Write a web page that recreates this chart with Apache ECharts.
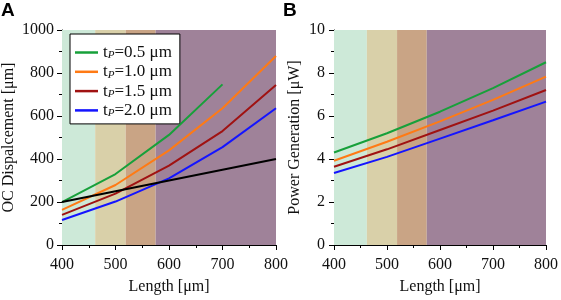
<!DOCTYPE html>
<html>
<head>
<meta charset="utf-8">
<script src="https://cdn.jsdelivr.net/npm/echarts@6/dist/echarts.min.js"></script>
<style>
  html, body { margin: 0; padding: 0; background: #fff; }
  #chart { width: 561px; height: 300px; }
</style>
</head>
<body>
<div id="chart"></div>
<script>
// lengths (um)
var lengths = [400, 500, 600, 700, 800];
var thickness = ['0.5', '1.0', '1.5', '2.0'];
var lineColors = ['#17a03a', '#ff7a14', '#a01212', '#1414ff'];

// panel A: OC displacement [um]
var dispA = [
    [199, 330, 512, 747],
    [163, 279, 440, 636, 879],
    [140, 239, 369, 530, 744],
    [116, 202, 310, 455, 636]
];
var refLine = [200, 250, 300, 350, 400];

// panel B: power generation [uW]
var powerB = [
    [4.3, 5.2, 6.2, 7.3, 8.5],
    [3.92, 4.8, 5.75, 6.75, 7.83],
    [3.64, 4.45, 5.35, 6.25, 7.21],
    [3.35, 4.1, 4.95, 5.8, 6.67]
];

// shaded bands
var bandEdges = [400, 462, 519, 575, 800];
var bandColors = ['#cde9d8', '#d9d0a9', '#c9a485', '#9f8299'];

var serif = 'Liberation Serif';
var legendNames = thickness.map(function (t) { return 'tP=' + t; });

function pairs(ys) {
    return ys.map(function (y, i) { return [lengths[i], y]; });
}

function bands() {
    var d = [];
    for (var i = 0; i < bandColors.length; i++) {
        d.push([{ xAxis: bandEdges[i], itemStyle: { color: bandColors[i], opacity: 1 } },
                { xAxis: bandEdges[i + 1] }]);
    }
    return d;
}

function xAx(idx) {
    return {
        type: 'value', gridIndex: idx, min: 400, max: 800, interval: 100,
        name: 'Length [μm]', nameLocation: 'middle', nameGap: 34,
        nameTextStyle: { fontFamily: serif, fontSize: 16, color: '#111' },
        axisLine: { lineStyle: { color: '#000', width: 1 } },
        axisTick: { show: true, length: 5, lineStyle: { color: '#000' } },
        minorTick: { show: true, splitNumber: 2, length: 3, lineStyle: { color: '#000' } },
        axisLabel: { fontFamily: serif, fontSize: 16, color: '#111', margin: 12,
            formatter: function (v) { return String(v); } },
        splitLine: { show: false }
    };
}

function yAx(idx, max, interval, name, gap, margin) {
    return {
        type: 'value', gridIndex: idx, min: 0, max: max, interval: interval,
        name: name, nameLocation: 'middle', nameGap: gap,
        nameTextStyle: { fontFamily: serif, fontSize: 16, color: '#111' },
        axisLine: { show: true, lineStyle: { color: '#000', width: 1 } },
        axisTick: { show: true, length: 5, lineStyle: { color: '#000' } },
        minorTick: { show: true, splitNumber: 2, length: 3, lineStyle: { color: '#000' } },
        axisLabel: { fontFamily: serif, fontSize: 16, color: '#111', margin: margin,
            formatter: function (v) { return String(v); } },
        splitLine: { show: false }
    };
}

var series = [];
series.push({ type: 'line', xAxisIndex: 0, yAxisIndex: 0, data: [], silent: true,
    markArea: { silent: true, data: bands() } });
series.push({ type: 'line', xAxisIndex: 1, yAxisIndex: 1, data: [], silent: true,
    markArea: { silent: true, data: bands() } });
series.push({ type: 'line', xAxisIndex: 0, yAxisIndex: 0, name: 'ref', data: pairs(refLine),
    symbol: 'none', lineStyle: { color: '#000', width: 2 }, z: 5 });
thickness.forEach(function (t, i) {
    series.push({ type: 'line', name: legendNames[i], xAxisIndex: 0, yAxisIndex: 0,
        data: pairs(dispA[i]), symbol: 'none', color: lineColors[i],
        lineStyle: { width: 2 }, z: 4 });
    series.push({ type: 'line', name: legendNames[i], xAxisIndex: 1, yAxisIndex: 1,
        data: pairs(powerB[i]), symbol: 'none', color: lineColors[i],
        lineStyle: { width: 2 }, z: 4 });
});

var option = {
    animation: false,
    graphic: [
        { type: 'text', left: 1, top: 1, style: { text: 'A', font: 'bold 19px Liberation Sans', fill: '#000' } },
        { type: 'text', left: 283, top: 1, style: { text: 'B', font: 'bold 19px Liberation Sans', fill: '#000' } }
    ],
    grid: [
        { left: 61, top: 30, width: 215, height: 215 },
        { left: 334, top: 30, width: 215, height: 215 }
    ],
    legend: {
        data: legendNames,
        orient: 'vertical', left: 70, top: 34,
        padding: [10, 8, 5, 5],
        backgroundColor: '#fff', borderColor: '#000', borderWidth: 1, borderRadius: 0,
        icon: 'rect',
        itemWidth: 23, itemHeight: 2.5, itemGap: 2.3,
        formatter: function (n) { return '{t|t}{s|P}{t|' + n.slice(2) + ' μm}'; },
        textStyle: {
            rich: {
                t: { fontFamily: serif, fontSize: 17, color: '#111', lineHeight: 17 },
                s: { fontFamily: serif, fontSize: 11, fontStyle: 'italic', color: '#111', padding: [6, 0, 0, 0] }
            }
        }
    },
    xAxis: [xAx(0), xAx(1)],
    yAxis: [
        yAx(0, 1000, 200, 'OC Dispalcement [μm]', 45, 8),
        yAx(1, 10, 2, 'Power Generation [μW]', 31, 9)
    ],
    series: series
};

var myChart = echarts.init(document.getElementById('chart'));
myChart.setOption(option);
</script>
</body>
</html>
